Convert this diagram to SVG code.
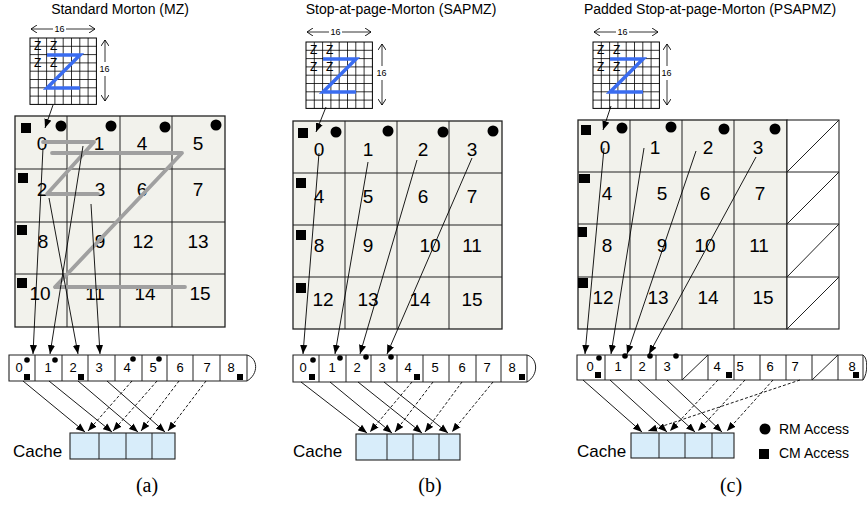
<svg xmlns="http://www.w3.org/2000/svg" width="867" height="505" viewBox="0 0 867 505">
<defs>
<style>
.t{font-family:"Liberation Sans",Arial,sans-serif;fill:#000}
.title{font-size:14px;text-anchor:middle}
.num{font-size:19px;text-anchor:middle}
.mem{font-size:13px;text-anchor:middle}
.cap{font-family:"Liberation Serif","Times New Roman",serif;font-size:20px;text-anchor:middle;fill:#000}
.zs{font-size:12px}
.dim{font-size:9px;text-anchor:middle}
.grid{fill:#f2f2ec;stroke:#222;stroke-width:1.3}
.gl{stroke:#222;stroke-width:1;fill:none}
.sgb{fill:#fff;stroke:#000;stroke-width:1}
.sgl{stroke:#000;stroke-width:0.8;fill:none}
.bz{fill:none;stroke:#3a6cf0;stroke-width:3.5;stroke-linejoin:miter}
.gz{fill:none;stroke:#a0a0a0;stroke-width:3.8;stroke-linejoin:round;stroke-linecap:round}
.dl{stroke:#000;stroke-width:0.8;fill:none;marker-end:url(#oa)}
.c{stroke:#000;stroke-width:0.9;fill:none;marker-end:url(#ah)}
.d{stroke:#000;stroke-width:0.9;fill:none;stroke-dasharray:3 2;marker-end:url(#ah)}
.mbox{fill:#fff;stroke:#222;stroke-width:1.1}
.cache{fill:#d8edfa;stroke:#222;stroke-width:1.1}
.pad{fill:#fff;stroke:#222;stroke-width:1.1}
</style>
<marker id="ah" viewBox="0 0 10 8" refX="10" refY="4" markerWidth="9" markerHeight="8" markerUnits="userSpaceOnUse" orient="auto">
<path d="M0,0 L10,4 L0,8 z" fill="#000"/>
</marker>
<marker id="oa" viewBox="0 0 6 8" refX="6" refY="4" markerWidth="6" markerHeight="8" markerUnits="userSpaceOnUse" orient="auto">
<path d="M0,0 L6,4 L0,8" fill="none" stroke="#000" stroke-width="0.9"/>
</marker>
</defs>
<rect width="867" height="505" fill="#fff"/>

<!-- ===== Panel (a) ===== -->
<g id="a-title"><text class="t title" x="120" y="14">Standard Morton (MZ)</text></g>
<g id="a-tile" transform="translate(30,38)">
<rect class="sgb" width="66.4" height="66.4"/>
<path class="sgl" d="M8.3 0v66.4M16.6 0v66.4M24.9 0v66.4M33.2 0v66.4M41.5 0v66.4M49.8 0v66.4M58.1 0v66.4M0 8.3h66.4M0 16.6h66.4M0 24.9h66.4M0 33.2h66.4M0 41.5h66.4M0 49.8h66.4M0 58.1h66.4"/>
<text class="t zs" x="4" y="12">Z</text><text class="t zs" x="20" y="12">Z</text>
<text class="t zs" x="4" y="29">Z</text><text class="t zs" x="20" y="29">Z</text>
<polyline class="bz" points="17,17 50,17 17,50 50,50"/>
<path class="dl" d="M23,-9 H1"/><path class="dl" d="M36,-9 H65"/>
<text class="t dim" x="29.5" y="-6">16</text>
<path class="dl" d="M75,24 V2"/><path class="dl" d="M75,38 V63"/>
<text class="t dim" x="74.5" y="34">16</text>
</g>
<g id="a-matrix">
<rect class="grid" x="15" y="116" width="210" height="211"/>
<path class="gl" d="M67 116V327M120 116V327M172 116V327M15 169H225M15 222H225M15 274H225"/>
<text class="t num" x="42" y="150">0</text><text class="t num" x="99" y="150">1</text><text class="t num" x="142" y="150">4</text><text class="t num" x="198" y="150">5</text>
<text class="t num" x="42" y="196">2</text><text class="t num" x="100" y="196">3</text><text class="t num" x="142" y="196">6</text><text class="t num" x="198" y="196">7</text>
<text class="t num" x="43" y="248">8</text><text class="t num" x="100" y="248">9</text><text class="t num" x="143" y="248">12</text><text class="t num" x="198" y="248">13</text>
<text class="t num" x="40" y="300">10</text><text class="t num" x="95" y="300">11</text><text class="t num" x="145" y="300">14</text><text class="t num" x="200" y="300">15</text>
<rect x="21" y="123" width="10" height="10"/><rect x="18" y="173" width="10" height="10"/><rect x="17" y="225" width="10" height="10"/><rect x="17" y="278" width="10" height="10"/>
<circle cx="61" cy="126" r="5.5"/><circle cx="111" cy="126" r="5.5"/><circle cx="165" cy="127" r="5.5"/><circle cx="216" cy="125" r="5.5"/>
<polyline class="gz" points="43,142 94,142 47,194 98,194"/>
<polyline class="gz" points="52,153 182,153 55,287 185,287"/>
</g>
<g id="a-memory">
<path class="mbox" d="M247,355 H9 V381 H247"/>
<path class="gl" d="M35 355V381M62 355V381M88 355V381M115 355V381M142 355V381M167 355V381M193 355V381M220 355V381M247 355V381"/>
<path class="gl" d="M247,355 C258,358 259,374 247,381"/>
<text class="t mem" x="19" y="372">0</text><text class="t mem" x="48" y="372">1</text><text class="t mem" x="73" y="372">2</text><text class="t mem" x="99" y="372">3</text><text class="t mem" x="127" y="372">4</text><text class="t mem" x="153" y="372">5</text><text class="t mem" x="180" y="372">6</text><text class="t mem" x="207" y="372">7</text><text class="t mem" x="231" y="372">8</text>
<circle cx="27" cy="360" r="2.8"/><circle cx="55" cy="360" r="2.8"/><circle cx="133" cy="359" r="2.8"/><circle cx="159" cy="359" r="2.8"/>
<rect x="24" y="374" width="6" height="6"/><rect x="78" y="374" width="6" height="6"/><rect x="237" y="374" width="6" height="6"/>
</g>
<g id="a-cache">
<rect class="cache" x="70" y="433" width="105" height="26"/>
<path class="gl" d="M99 433V459M126 433V459M152 433V459"/>
<text class="t" x="13" y="457" font-size="17">Cache</text>
</g>
<g id="a-caption"><text class="cap" x="147" y="492">(a)</text></g>

<!-- ===== Panel (b) ===== -->
<g id="b-title"><text class="t title" x="401" y="14">Stop-at-page-Morton (SAPMZ)</text></g>
<g id="b-tile" transform="translate(306,42)">
<rect class="sgb" width="66.4" height="66.4"/>
<path class="sgl" d="M8.3 0v66.4M16.6 0v66.4M24.9 0v66.4M33.2 0v66.4M41.5 0v66.4M49.8 0v66.4M58.1 0v66.4M0 8.3h66.4M0 16.6h66.4M0 24.9h66.4M0 33.2h66.4M0 41.5h66.4M0 49.8h66.4M0 58.1h66.4"/>
<text class="t zs" x="4" y="12">Z</text><text class="t zs" x="20" y="12">Z</text>
<text class="t zs" x="4" y="29">Z</text><text class="t zs" x="20" y="29">Z</text>
<polyline class="bz" points="17,17 50,17 17,50 50,50"/>
<path class="dl" d="M23,-10 H1"/><path class="dl" d="M36,-10 H65"/>
<text class="t dim" x="29.5" y="-7">16</text>
<path class="dl" d="M76,24 V2"/><path class="dl" d="M76,38 V63"/>
<text class="t dim" x="75.5" y="34">16</text>
</g>
<g id="b-matrix">
<rect class="grid" x="293" y="121" width="209" height="208"/>
<path class="gl" d="M345 121V329M397 121V329M449 121V329M293 173H502M293 225H502M293 277H502"/>
<text class="t num" x="319" y="156">0</text><text class="t num" x="368" y="156">1</text><text class="t num" x="423" y="156">2</text><text class="t num" x="472" y="156">3</text>
<text class="t num" x="319" y="203">4</text><text class="t num" x="368" y="203">5</text><text class="t num" x="423" y="203">6</text><text class="t num" x="472" y="203">7</text>
<text class="t num" x="319" y="252">8</text><text class="t num" x="368" y="252">9</text><text class="t num" x="430" y="252">10</text><text class="t num" x="472" y="252">11</text>
<text class="t num" x="323" y="306">12</text><text class="t num" x="368" y="306">13</text><text class="t num" x="420" y="306">14</text><text class="t num" x="472" y="306">15</text>
<rect x="298" y="128" width="10" height="10"/><rect x="296" y="178" width="10" height="10"/><rect x="296" y="230" width="10" height="10"/><rect x="296" y="283" width="10" height="10"/>
<circle cx="336" cy="132" r="5.5"/><circle cx="388" cy="131" r="5.5"/><circle cx="443" cy="132" r="5.5"/><circle cx="493" cy="131" r="5.5"/>
</g>
<g id="b-memory">
<path class="mbox" d="M527,355 H293 V382 H527"/>
<path class="gl" d="M319 355V382M346 355V382M371 355V382M397 355V382M423 355V382M449 355V382M476 355V382M501 355V382M527 355V382"/>
<path class="gl" d="M527,355 C538,358 539,375 527,382"/>
<text class="t mem" x="303" y="372">0</text><text class="t mem" x="332" y="372">1</text><text class="t mem" x="357" y="372">2</text><text class="t mem" x="382" y="372">3</text><text class="t mem" x="408" y="372">4</text><text class="t mem" x="435" y="372">5</text><text class="t mem" x="462" y="372">6</text><text class="t mem" x="487" y="372">7</text><text class="t mem" x="512" y="372">8</text>
<circle cx="313" cy="360" r="2.8"/><circle cx="340" cy="358" r="2.8"/><circle cx="366" cy="357" r="2.8"/><circle cx="391" cy="357" r="2.8"/>
<rect x="309" y="374" width="6" height="6"/><rect x="414" y="374" width="6" height="6"/><rect x="519" y="374" width="6" height="6"/>
</g>
<g id="b-cache">
<rect class="cache" x="356" y="434" width="104" height="26"/>
<path class="gl" d="M387 434V460M413 434V460M439 434V460"/>
<text class="t" x="293" y="457" font-size="17">Cache</text>
</g>
<g id="b-caption"><text class="cap" x="430" y="492">(b)</text></g>

<!-- ===== Panel (c) ===== -->
<g id="c-title"><text class="t title" x="710" y="14">Padded Stop-at-page-Morton (PSAPMZ)</text></g>
<g id="c-tile" transform="translate(593,42)">
<rect class="sgb" width="66.4" height="66.4"/>
<path class="sgl" d="M8.3 0v66.4M16.6 0v66.4M24.9 0v66.4M33.2 0v66.4M41.5 0v66.4M49.8 0v66.4M58.1 0v66.4M0 8.3h66.4M0 16.6h66.4M0 24.9h66.4M0 33.2h66.4M0 41.5h66.4M0 49.8h66.4M0 58.1h66.4"/>
<text class="t zs" x="4" y="12">Z</text><text class="t zs" x="20" y="12">Z</text>
<text class="t zs" x="4" y="29">Z</text><text class="t zs" x="20" y="29">Z</text>
<polyline class="bz" points="17,17 50,17 17,50 50,50"/>
<path class="dl" d="M23,-10 H1"/><path class="dl" d="M36,-10 H65"/>
<text class="t dim" x="29.5" y="-7">16</text>
<path class="dl" d="M74,24 V2"/><path class="dl" d="M74,38 V63"/>
<text class="t dim" x="73.5" y="34">16</text>
</g>
<g id="c-matrix">
<rect class="grid" x="578" y="120" width="209" height="209"/>
<path class="gl" d="M630 120V329M682 120V329M734 120V329M578 172H787M578 224H787M578 277H787"/>
<rect class="pad" x="787" y="120" width="52" height="209"/>
<path class="gl" d="M787 172H839M787 224H839M787 277H839M787 172L839 120M787 224L839 172M787 277L839 224M787 329L839 277"/>
<text class="t num" x="605" y="154">0</text><text class="t num" x="655" y="154">1</text><text class="t num" x="708" y="154">2</text><text class="t num" x="758" y="154">3</text>
<text class="t num" x="607" y="200">4</text><text class="t num" x="662" y="200">5</text><text class="t num" x="705" y="200">6</text><text class="t num" x="760" y="200">7</text>
<text class="t num" x="607" y="252">8</text><text class="t num" x="662" y="252">9</text><text class="t num" x="705" y="252">10</text><text class="t num" x="759" y="252">11</text>
<text class="t num" x="603" y="304">12</text><text class="t num" x="658" y="304">13</text><text class="t num" x="708" y="304">14</text><text class="t num" x="763" y="304">15</text>
<rect x="581" y="125" width="10" height="10"/><rect x="579" y="174" width="11" height="9"/><rect x="578" y="227" width="9" height="10"/><rect x="578" y="278" width="10" height="10"/>
<circle cx="622" cy="128" r="5.5"/><circle cx="671" cy="127" r="5.5"/><circle cx="724" cy="129" r="5.5"/><circle cx="775" cy="129" r="5.5"/>
</g>
<g id="c-memory">
<path class="mbox" d="M863,355 H577 V380 H863"/>
<path class="gl" d="M605 355V380M631 355V380M656 355V380M682 355V380M708 355V380M734 355V380M760 355V380M786 355V380M812 355V380M838 355V380M863 355V380M682 380L708 355M812 380L838 355"/>
<path class="gl" d="M863,355 C868,358 868,373 863,380"/>
<text class="t mem" x="590" y="371">0</text><text class="t mem" x="618" y="371">1</text><text class="t mem" x="642" y="371">2</text><text class="t mem" x="667" y="371">3</text><text class="t mem" x="717" y="371">4</text><text class="t mem" x="740" y="371">5</text><text class="t mem" x="770" y="371">6</text><text class="t mem" x="795" y="371">7</text><text class="t mem" x="852" y="371">8</text>
<circle cx="599" cy="358" r="2.8"/><circle cx="625" cy="356" r="2.8"/><circle cx="650" cy="356" r="2.8"/><circle cx="676" cy="356" r="2.8"/>
<rect x="595" y="372" width="6" height="6"/><rect x="726" y="372" width="6" height="6"/><rect x="853" y="372" width="6" height="6"/>
</g>
<g id="c-cache">
<rect class="cache" x="631" y="433" width="103" height="25"/>
<path class="gl" d="M659 433V458M685 433V458M712 433V458"/>
<text class="t" x="577" y="457" font-size="17">Cache</text>
</g>
<g id="legend">
<circle cx="765" cy="429" r="5.5"/>
<text class="t" x="779" y="434" font-size="14">RM Access</text>
<rect x="759" y="449" width="10" height="10"/>
<text class="t" x="779" y="458" font-size="14">CM Access</text>
</g>
<g id="c-caption"><text class="cap" x="731" y="492">(c)</text></g>

<!-- ===== Connectors ===== -->
<g id="connectors">
<path class="c" d="M53,105 L45,128"/>
<path class="c" d="M43,148 L33,354"/>
<path class="c" d="M83,146 L50,354"/>
<path class="c" d="M49,198 L78,354"/>
<path class="c" d="M91,204 L100,354"/>
<path class="c" d="M23,381 L85,432"/>
<path class="c" d="M49,381 L112,432"/>
<path class="c" d="M78,381 L138,432"/>
<path class="c" d="M107,381 L165,432"/>
<path class="d" d="M132,381 L88,431"/>
<path class="d" d="M157,381 L113,431"/>
<path class="d" d="M179,381 L141,431"/>
<path class="d" d="M206,381 L168,431"/>

<path class="c" d="M326,107 L316,132"/>
<path class="c" d="M319,153 L303,354"/>
<path class="c" d="M368,162 L335,354"/>
<path class="c" d="M417,160 L360,354"/>
<path class="c" d="M472,158 L387,354"/>
<path class="c" d="M301,382 L367,433"/>
<path class="c" d="M330,382 L392,433"/>
<path class="c" d="M358,382 L422,433"/>
<path class="c" d="M384,382 L448,433"/>
<path class="d" d="M412,382 L370,432"/>
<path class="d" d="M433,382 L395,432"/>
<path class="d" d="M462,382 L425,432"/>
<path class="d" d="M493,382 L452,432"/>

<path class="c" d="M611,106 L603,130"/>
<path class="c" d="M604,148 L585,354"/>
<path class="c" d="M644,148 L611,354"/>
<path class="c" d="M696,151 L627,354"/>
<path class="c" d="M756,157 L649,354"/>
<path class="c" d="M583,380 L642,432"/>
<path class="c" d="M610,380 L667,432"/>
<path class="c" d="M638,380 L695,432"/>
<path class="c" d="M667,380 L722,432"/>
<path class="d" d="M718,380 L670,431"/>
<path class="d" d="M745,380 L698,431"/>
<path class="d" d="M773,380 L727,431"/>
<path class="d" d="M800,380 L648,431"/>
</g>
</svg>
